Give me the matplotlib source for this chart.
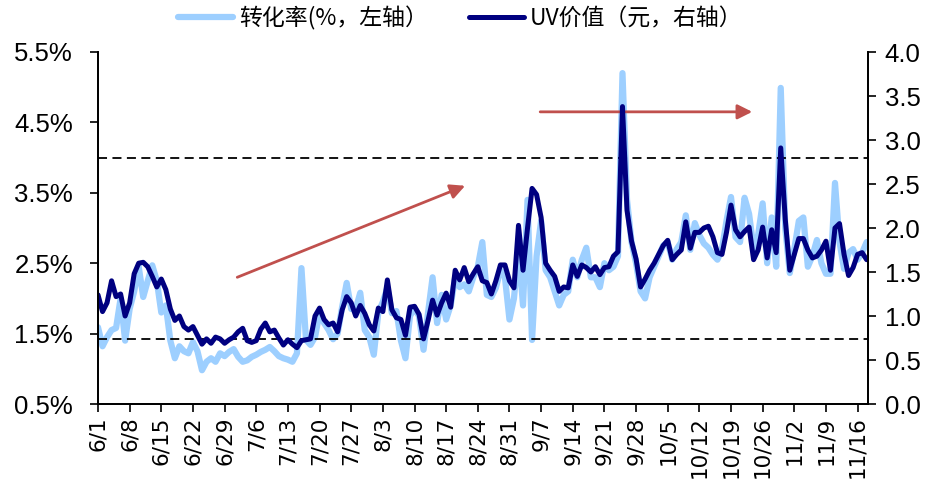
import numpy as np
import pandas as pd
import matplotlib
matplotlib.use("Agg")
import matplotlib.pyplot as plt

# conversion rate (%), left axis, daily from 6/1
conv_rate = [1.59, 1.32, 1.45, 1.55, 1.58, 2.00, 1.40, 1.85, 2.10, 2.45,
             2.02, 2.25, 2.47, 2.25, 1.80, 1.90, 1.40, 1.15, 1.32, 1.25,
             1.22, 1.38, 1.25, 0.98, 1.10, 1.15, 1.10, 1.22, 1.18, 1.24,
             1.28, 1.17, 1.10, 1.12, 1.17, 1.20, 1.24, 1.27, 1.31, 1.25,
             1.18, 1.15, 1.13, 1.10, 1.22, 2.43, 1.41, 1.34, 1.45, 1.80,
             1.65, 1.55, 1.42, 1.50, 1.88, 2.22, 1.85, 1.85, 2.08, 1.55,
             1.45, 1.20, 1.80, 1.95, 2.15, 1.79, 1.82, 1.40, 1.15, 1.75,
             1.86, 1.75, 1.27, 1.80, 2.30, 1.65, 2.05, 1.70, 1.90, 2.30,
             2.16, 2.20, 2.10, 2.30, 2.45, 2.80, 2.05, 2.02, 2.15, 2.40,
             2.30, 1.70, 2.00, 2.70, 1.90, 3.40, 1.41, 2.60, 3.10, 2.40,
             2.30, 2.10, 1.90, 2.05, 2.10, 2.55, 2.30, 2.55, 2.72, 2.30,
             2.30, 2.16, 2.50, 2.40, 2.45, 2.60, 5.20, 3.40, 2.80, 2.50,
             2.10, 2.00, 2.30, 2.45, 2.60, 2.75, 2.80, 2.55, 2.70, 2.80,
             3.18, 2.69, 3.07, 2.90, 2.78, 2.72, 2.62, 2.55, 2.70, 3.10,
             3.44, 2.87, 2.80, 3.43, 3.20, 2.70, 2.90, 3.35, 2.50, 3.15,
             2.45, 4.99, 3.00, 2.36, 2.70, 3.10, 3.15, 2.45, 2.60, 2.83,
             2.50, 2.35, 2.35, 3.64, 2.80, 2.42, 2.65, 2.70, 2.55, 2.65, 2.80]

# UV value (yuan), right axis
uv_value = [1.24, 1.05, 1.15, 1.40, 1.22, 1.25, 1.00, 1.15, 1.48, 1.60,
            1.61, 1.56, 1.45, 1.33, 1.42, 1.30, 1.08, 0.95, 1.00, 0.88,
            0.84, 0.88, 0.78, 0.68, 0.74, 0.69, 0.76, 0.74, 0.69, 0.73,
            0.76, 0.82, 0.86, 0.72, 0.70, 0.72, 0.85, 0.92, 0.82, 0.84,
            0.75, 0.67, 0.73, 0.68, 0.64, 0.72, 0.73, 0.74, 1.00, 1.09,
            0.96, 0.90, 0.92, 0.82, 1.07, 1.22, 1.15, 1.00, 1.12, 1.03,
            0.90, 0.83, 1.09, 1.05, 1.41, 1.07, 0.98, 0.96, 0.78, 1.10,
            1.11, 1.02, 0.74, 0.95, 1.18, 1.01, 1.15, 1.26, 1.10, 1.52,
            1.41, 1.55, 1.39, 1.48, 1.56, 1.40, 1.38, 1.25, 1.40, 1.58,
            1.58, 1.40, 1.32, 2.03, 1.52, 2.00, 2.45, 2.38, 2.12, 1.60,
            1.52, 1.45, 1.28, 1.33, 1.32, 1.58, 1.45, 1.58, 1.55, 1.50,
            1.56, 1.47, 1.55, 1.56, 1.68, 1.73, 3.38, 2.20, 1.85, 1.65,
            1.33, 1.42, 1.52, 1.60, 1.70, 1.80, 1.86, 1.64, 1.70, 1.75,
            2.07, 1.77, 1.95, 1.95, 2.00, 2.02, 1.90, 1.72, 1.70, 1.95,
            2.26, 1.98, 1.90, 1.96, 2.01, 1.64, 1.75, 2.01, 1.66, 1.98,
            1.72, 2.91, 2.10, 1.52, 1.70, 1.88, 1.88, 1.75, 1.66, 1.68,
            1.75, 1.85, 1.52, 2.00, 2.05, 1.70, 1.46, 1.55, 1.70, 1.72, 1.64]

dates = pd.date_range("2020-06-01", periods=len(conv_rate))
tick_labels = ["%d/%d" % (d.month, d.day) for d in dates[::7]]
ref_lines = [4.0, 1.42]

days = np.arange(len(conv_rate))
cjk = ["Noto Sans CJK SC", "DejaVu Sans"]

fig = plt.figure(figsize=(9.38, 4.91), dpi=100)
ax = fig.add_axes([98/938, 1-404/491, 770/938, 352/491])
ax2 = ax.twinx()

l1, = ax.plot(days, conv_rate, color="#9DCFFF", lw=4.5, solid_joinstyle="round",
              solid_capstyle="round", label="转化率(%，左轴）")
l2, = ax2.plot(days, uv_value, color="#000080", lw=3.6, solid_joinstyle="round",
               solid_capstyle="round", label="UV价值（元，右轴）")
for v in ref_lines:
    ax.axhline(v, color="black", lw=1.3, ls=(0, (5, 3)), zorder=5)

# trend arrows
arrow = dict(arrowstyle="-|>", color="#C0504D", lw=2, mutation_scale=22, shrinkA=0, shrinkB=0)
ax.annotate("", xy=(81.2, 3.60), xytext=(30.8, 2.30), arrowprops=arrow)
ax.annotate("", xy=(144.7, 4.65), xytext=(97.8, 4.65), arrowprops=arrow)

ax.set_xlim(0, 170.3)
ax.set_ylim(0.5, 5.5)
ax2.set_ylim(0, 4.0)
ax.set_yticks(np.arange(0.5, 5.6, 1.0))
ax.set_yticklabels(["%.1f%%" % v for v in np.arange(0.5, 5.6, 1.0)],
                   fontsize=18.5, family="Liberation Sans")
ax2.set_yticks(np.arange(0, 4.01, 0.5))
ax2.set_yticklabels(["%.1f" % v for v in np.arange(0, 4.01, 0.5)],
                    fontsize=18.5, family="Liberation Sans")
ax.set_xticks(days[::7])
ax.set_xticklabels(tick_labels, rotation=90, fontsize=15.5)

for a in (ax, ax2):
    a.spines["top"].set_visible(False)
    for s in ("left", "right", "bottom"):
        a.spines[s].set_linewidth(1.3)
    a.tick_params(direction="out", length=6, width=1.2)
ax.tick_params(axis="y", pad=12)
ax2.tick_params(axis="y", pad=6)
ax.tick_params(axis="x", pad=3)

leg = fig.legend(handles=[l1, l2], loc="center", bbox_to_anchor=(0.491, 0.963),
                 ncol=2, frameon=False, prop={"family": cjk, "size": 16.5},
                 handlelength=2.4, columnspacing=1.8, handletextpad=0.25)

fig.savefig("out.png", dpi=100)
